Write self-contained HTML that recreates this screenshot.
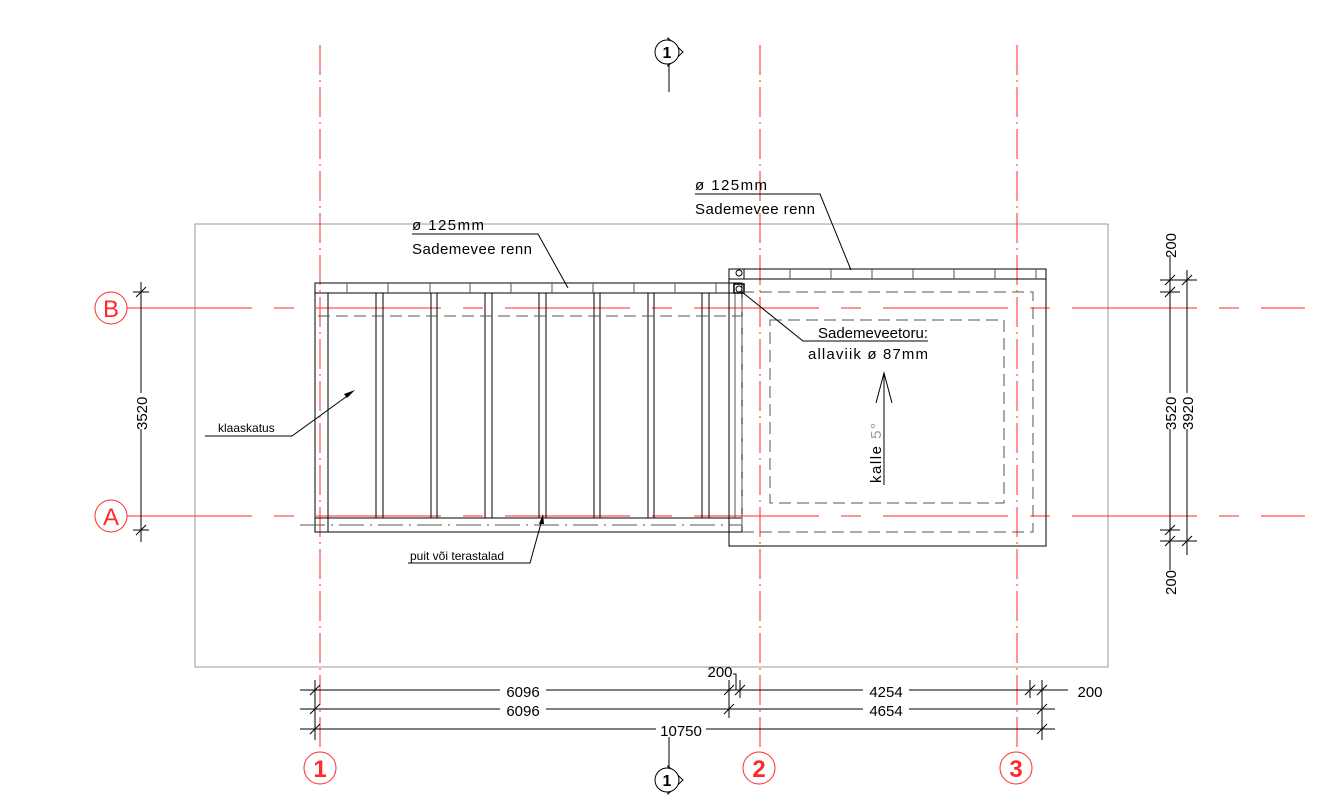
<!DOCTYPE html>
<html><head><meta charset="utf-8"><style>
html,body{margin:0;padding:0;background:#fff;}
svg{display:block;}
text{font-family:"Liberation Sans",sans-serif;fill:#000;}
.r{stroke:#ff2a2a;fill:none;stroke-width:1;}
.k{stroke:#000;fill:none;stroke-width:1;}
.g{stroke:#555;fill:none;stroke-width:1;}
</style></head><body>
<svg width="1333" height="799" viewBox="0 0 1333 799" xmlns="http://www.w3.org/2000/svg">
<rect x="195" y="224" width="913" height="443" fill="none" stroke="#999" stroke-width="1"/>
<g class="r" stroke-dasharray="30,5,2,5">
<line x1="320" y1="45" x2="320" y2="750"/>
<line x1="760" y1="45" x2="760" y2="750"/>
<line x1="1017" y1="45" x2="1017" y2="750"/>
</g>
<g class="r" stroke-dasharray="125,22,20,22">
<line x1="127" y1="308" x2="1305" y2="308"/>
<line x1="127" y1="516" x2="1305" y2="516"/>
</g>
<g class="r">
<circle cx="111" cy="308" r="16"/><circle cx="111" cy="516" r="16"/>
<circle cx="320" cy="768" r="16"/><circle cx="759" cy="768" r="16"/><circle cx="1016" cy="768" r="16"/>
</g>
<g font-size="24" text-anchor="middle">
<text x="111" y="317" style="fill:#ff2a2a">B</text>
<text x="111" y="525" style="fill:#ff2a2a">A</text>
<text x="320" y="777" style="fill:#ff2a2a;font-weight:bold">1</text>
<text x="759" y="777" style="fill:#ff2a2a;font-weight:bold">2</text>
<text x="1016" y="777" style="fill:#ff2a2a;font-weight:bold">3</text>
</g>
<g class="k">
<rect x="315" y="283" width="427" height="249"/>
<line x1="315" y1="293" x2="742" y2="293"/>
<line x1="315" y1="518" x2="742" y2="518"/>
<line x1="328" y1="293" x2="328" y2="532"/>
<line x1="376" y1="293" x2="376" y2="518"/><line x1="383" y1="293" x2="383" y2="518"/>
<line x1="431" y1="293" x2="431" y2="518"/><line x1="437" y1="293" x2="437" y2="518"/>
<line x1="485" y1="293" x2="485" y2="518"/><line x1="492" y1="293" x2="492" y2="518"/>
<line x1="539" y1="293" x2="539" y2="518"/><line x1="546" y1="293" x2="546" y2="518"/>
<line x1="594" y1="293" x2="594" y2="518"/><line x1="600" y1="293" x2="600" y2="518"/>
<line x1="648" y1="293" x2="648" y2="518"/><line x1="654" y1="293" x2="654" y2="518"/>
<line x1="702" y1="293" x2="702" y2="518"/><line x1="709" y1="293" x2="709" y2="518"/>
</g>
<g class="g">
<line x1="347" y1="283" x2="347" y2="293"/><line x1="388" y1="283" x2="388" y2="293"/><line x1="430" y1="283" x2="430" y2="293"/><line x1="470" y1="283" x2="470" y2="293"/><line x1="511" y1="283" x2="511" y2="293"/><line x1="552" y1="283" x2="552" y2="293"/><line x1="593" y1="283" x2="593" y2="293"/><line x1="634" y1="283" x2="634" y2="293"/><line x1="675" y1="283" x2="675" y2="293"/><line x1="716" y1="283" x2="716" y2="293"/>
<line x1="318" y1="316" x2="742" y2="316" stroke-dasharray="12,6"/>
<line x1="300" y1="525" x2="742" y2="525" stroke-dasharray="25,6,2,6"/>
<line x1="742" y1="310" x2="742" y2="510" stroke-dasharray="2,40"/>
<line x1="735" y1="293" x2="735" y2="518"/>
</g>
<g class="k">
<rect x="729" y="269" width="317" height="277"/>
<line x1="729" y1="279" x2="1046" y2="279"/>
<line x1="744" y1="269" x2="744" y2="279"/>
<circle cx="739" cy="273" r="3"/>
<rect x="734" y="284" width="10" height="9" stroke-width="1.5"/>
<circle cx="739" cy="289" r="3"/>
</g>
<g class="g">
<line x1="790" y1="269" x2="790" y2="279"/><line x1="831" y1="269" x2="831" y2="279"/><line x1="872" y1="269" x2="872" y2="279"/><line x1="913" y1="269" x2="913" y2="279"/><line x1="954" y1="269" x2="954" y2="279"/><line x1="995" y1="269" x2="995" y2="279"/><line x1="1036" y1="269" x2="1036" y2="279"/>
<rect x="742" y="292" width="291" height="240" stroke-dasharray="12,6"/>
<rect x="770" y="320" width="234" height="183" stroke-dasharray="12,6"/>
</g>
<g class="k">
<polyline points="412,234 538,234 568,288"/>
<polyline points="695,194 820,194 851,270"/>
<polyline points="742,292 803,341 928,341"/>
<polyline points="205,436 292,436 350,394"/>
<polyline points="408,563 530,563 543,516"/>
<line x1="884" y1="485" x2="884" y2="373"/>
<polyline points="876,403 884,373 892,403"/>
</g>
<polygon points="355,390 344,394 347,398" fill="#000"/>
<polygon points="543,514 539,524 544,524" fill="#000"/>
<g font-size="15">
<text x="412" y="230" textLength="72">ø 125mm</text>
<text x="412" y="254" textLength="120">Sademevee renn</text>
<text x="695" y="190" textLength="72">ø 125mm</text>
<text x="695" y="214" textLength="120">Sademevee renn</text>
<text x="818" y="338" textLength="110">Sademeveetoru:</text>
<text x="808" y="359" textLength="120">allaviik ø 87mm</text>
<text transform="translate(881,483) rotate(-90)" textLength="60">kalle <tspan style="fill:#999">5°</tspan></text>
</g>
<g font-size="12">
<text x="218" y="432">klaaskatus</text>
<text x="410" y="560">puit või terastalad</text>
</g>
<g class="k">
<line x1="141" y1="282" x2="141" y2="542"/>
<line x1="133" y1="292" x2="149" y2="292"/><line x1="136" y1="297" x2="146" y2="287"/>
<line x1="133" y1="530" x2="149" y2="530"/><line x1="136" y1="535" x2="146" y2="525"/>
</g>
<rect x="133" y="393" width="16" height="36" fill="#fff"/>
<text transform="translate(147,430) rotate(-90)" font-size="15">3520</text>
<g class="k">
<line x1="1170" y1="255" x2="1170" y2="570"/>
<line x1="1187" y1="270" x2="1187" y2="555"/>
<line x1="1160" y1="280" x2="1197" y2="280"/><line x1="1160" y1="292" x2="1180" y2="292"/>
<line x1="1160" y1="530" x2="1180" y2="530"/><line x1="1160" y1="541" x2="1197" y2="541"/>
<line x1="1165" y1="285" x2="1175" y2="275"/><line x1="1165" y1="297" x2="1175" y2="287"/><line x1="1182" y1="285" x2="1192" y2="275"/>
<line x1="1165" y1="535" x2="1175" y2="525"/><line x1="1165" y1="546" x2="1175" y2="536"/><line x1="1182" y1="546" x2="1192" y2="536"/>
</g>
<rect x="1162" y="393" width="32" height="36" fill="#fff"/>
<g font-size="15">
<text transform="translate(1176,430) rotate(-90)">3520</text>
<text transform="translate(1193,430) rotate(-90)">3920</text>
<text transform="translate(1176,258) rotate(-90)">200</text>
<text transform="translate(1176,595) rotate(-90)">200</text>
</g>
<g class="k">
<line x1="300" y1="690" x2="1068" y2="690"/>
<line x1="300" y1="709" x2="1055" y2="709"/>
<line x1="300" y1="729" x2="1055" y2="729"/>
<line x1="315" y1="680" x2="315" y2="740"/>
<line x1="729" y1="680" x2="729" y2="718"/><line x1="740" y1="680" x2="740" y2="698"/>
<line x1="1030" y1="680" x2="1030" y2="698"/><line x1="1042" y1="680" x2="1042" y2="740"/>
<line x1="310" y1="695" x2="320" y2="685"/><line x1="310" y1="714" x2="320" y2="704"/><line x1="310" y1="734" x2="320" y2="724"/>
<line x1="724" y1="695" x2="734" y2="685"/><line x1="724" y1="714" x2="734" y2="704"/><line x1="735" y1="695" x2="745" y2="685"/>
<line x1="1025" y1="695" x2="1035" y2="685"/><line x1="1037" y1="695" x2="1047" y2="685"/><line x1="1037" y1="714" x2="1047" y2="704"/><line x1="1037" y1="734" x2="1047" y2="724"/>
<polyline points="733,674 736,674 736,690"/>
<line x1="669" y1="735" x2="669" y2="767"/>
<line x1="669" y1="65" x2="669" y2="92"/>
</g>
<g font-size="15" text-anchor="middle">
<rect x="500" y="682" width="46" height="16" fill="#fff"/><text x="523" y="697">6096</text>
<rect x="500" y="701" width="46" height="16" fill="#fff"/><text x="523" y="716">6096</text>
<rect x="863" y="682" width="46" height="16" fill="#fff"/><text x="886" y="697">4254</text>
<rect x="863" y="701" width="46" height="16" fill="#fff"/><text x="886" y="716">4654</text>
<rect x="656" y="721" width="50" height="16" fill="#fff"/><text x="681" y="736">10750</text>
<text x="720" y="677">200</text>
<rect x="1070" y="682" width="36" height="16" fill="#fff"/><text x="1090" y="697">200</text>
</g>
<g class="k">
<polygon points="668,38 683,52 668,66" fill="#fff"/>
<circle cx="667" cy="52" r="12" fill="#fff"/>
<polygon points="668,766 683,780 668,794" fill="#fff"/>
<circle cx="667" cy="780" r="12" fill="#fff"/>
</g>
<g font-size="16" font-weight="bold" text-anchor="middle">
<text x="667" y="58">1</text><text x="667" y="786">1</text>
</g>
</svg>
</body></html>
